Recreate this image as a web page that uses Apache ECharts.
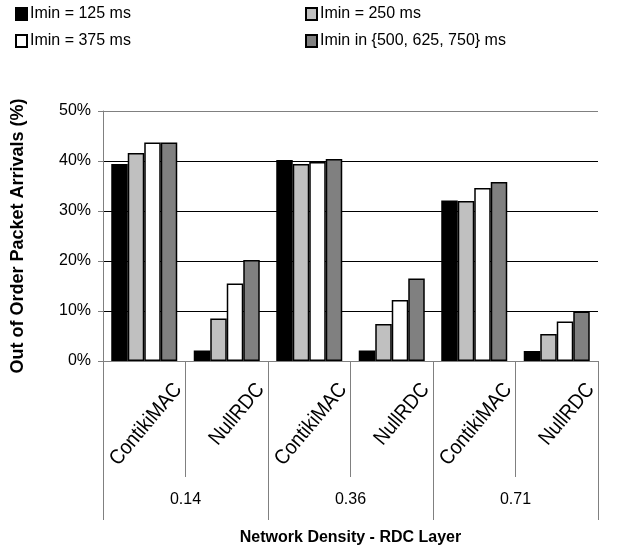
<!DOCTYPE html>
<html>
<head>
<meta charset="utf-8">
<script src="https://cdn.jsdelivr.net/npm/echarts@6/dist/echarts.min.js"></script>
<style>
  html, body { margin: 0; padding: 0; background: #fff; }
  #chart { width: 633px; height: 554px; }
</style>
</head>
<body>
<div id="chart"></div>
<script>
// RDC layer per density, and density groups
const categories = ['ContikiMAC', 'NullRDC', 'ContikiMAC', 'NullRDC', 'ContikiMAC', 'NullRDC'];
const densities = ['0.14', '0.36', '0.71'];
const yTicks = [0, 10, 20, 30, 40, 50];

// Out-of-order packet arrivals (%) per Imin setting
const imin125 = [39.4, 2.1, 40.2, 2.1, 32.1, 2.0];
const imin250 = [41.6, 8.5, 39.4, 7.4, 32.0, 5.4];
const imin375 = [43.7, 15.5, 39.8, 12.2, 34.6, 7.9];
const imin500 = [43.7, 20.2, 40.4, 16.5, 35.8, 9.9];

const seriesNames = ['Imin = 125 ms', 'Imin = 250 ms', 'Imin = 375 ms', 'Imin in {500, 625, 750} ms'];
const seriesColors = ['#000000', '#c0c0c0', '#ffffff', '#808080'];
const seriesData = [imin125, imin250, imin375, imin500];

const FONT = '"Liberation Sans", Arial, sans-serif';

const chart = echarts.init(document.getElementById('chart'), null, { renderer: 'canvas' });

const legendPos = [
  { left: 15, top: 6 },
  { left: 305, top: 6 },
  { left: 15, top: 33 },
  { left: 305, top: 33 }
];

const option = {
  animation: false,
  backgroundColor: '#fff',
  textStyle: { fontFamily: FONT },
  legend: seriesNames.map((n, i) => ({
    data: [n],
    left: legendPos[i].left,
    top: legendPos[i].top,
    padding: 0,
    icon: 'rect',
    itemWidth: 11,
    itemHeight: 12,
    textStyle: { fontSize: 16, color: '#000', fontFamily: FONT, padding: [0, 0, 0, -2] },
    selectedMode: false
  })),
  grid: { left: 103, right: 35, top: 111, bottom: 193 },
  xAxis: [
    {
      type: 'category',
      data: categories,
      position: 'bottom',
      axisLine: { show: true, lineStyle: { color: '#808080', width: 1 } },
      axisTick: { show: true, length: 116, lineStyle: { color: '#808080', width: 1 } },
      axisLabel: { show: false }
    },
    {
      type: 'category',
      data: densities,
      position: 'bottom',
      axisLine: { show: false },
      axisTick: { show: true, length: 159, lineStyle: { color: '#808080', width: 1 } },
      axisLabel: { show: true, margin: 131, fontSize: 16, color: '#000', fontFamily: FONT },
      name: 'Network Density - RDC Layer',
      nameLocation: 'middle',
      nameGap: 169,
      nameTextStyle: { fontSize: 16, fontWeight: 'bold', color: '#000', fontFamily: FONT }
    }
  ],
  yAxis: {
    type: 'value',
    min: 0,
    max: 50,
    interval: 10,
    name: 'Out of Order Packet Arrivals (%)',
    nameLocation: 'middle',
    nameRotate: 90,
    nameGap: 76,
    nameTextStyle: { fontSize: 18, fontWeight: 'bold', color: '#000', fontFamily: FONT },
    axisLine: { show: true, lineStyle: { color: '#808080', width: 1 } },
    axisTick: { show: true, inside: false, length: 5, lineStyle: { color: '#808080' } },
    axisLabel: {
      fontSize: 16, color: '#000', margin: 12, fontFamily: FONT,
      formatter: v => yTicks.includes(v) ? v + '%' : ''
    },
    splitLine: {
      show: true,
      lineStyle: { color: ['#000', '#000', '#000', '#000', '#000', '#808080'], width: 1 }
    }
  },
  series: seriesNames.map((n, i) => ({
    name: n,
    type: 'bar',
    xAxisIndex: 0,
    data: seriesData[i],
    barGap: '0%',
    barCategoryGap: '20%',
    itemStyle: { color: seriesColors[i], borderColor: '#000', borderWidth: 1.5 }
  })).concat([{
    // rotated layer names under each category
    type: 'custom',
    xAxisIndex: 0,
    silent: true,
    clip: false,
    data: categories.map((c, i) => [i]),
    encode: { x: 0 },
    renderItem: function (params, api) {
      const p = api.coord([api.value(0), 0]);
      return {
        type: 'text',
        x: p[0] + 34,
        y: p[1] + 25,
        rotation: 50 * Math.PI / 180,
        scaleY: 1.1,
        style: {
          text: categories[params.dataIndex],
          align: 'right',
          verticalAlign: 'middle',
          font: '19px ' + FONT,
          fill: '#000'
        }
      };
    }
  }])
};

chart.setOption(option);
</script>
</body>
</html>
